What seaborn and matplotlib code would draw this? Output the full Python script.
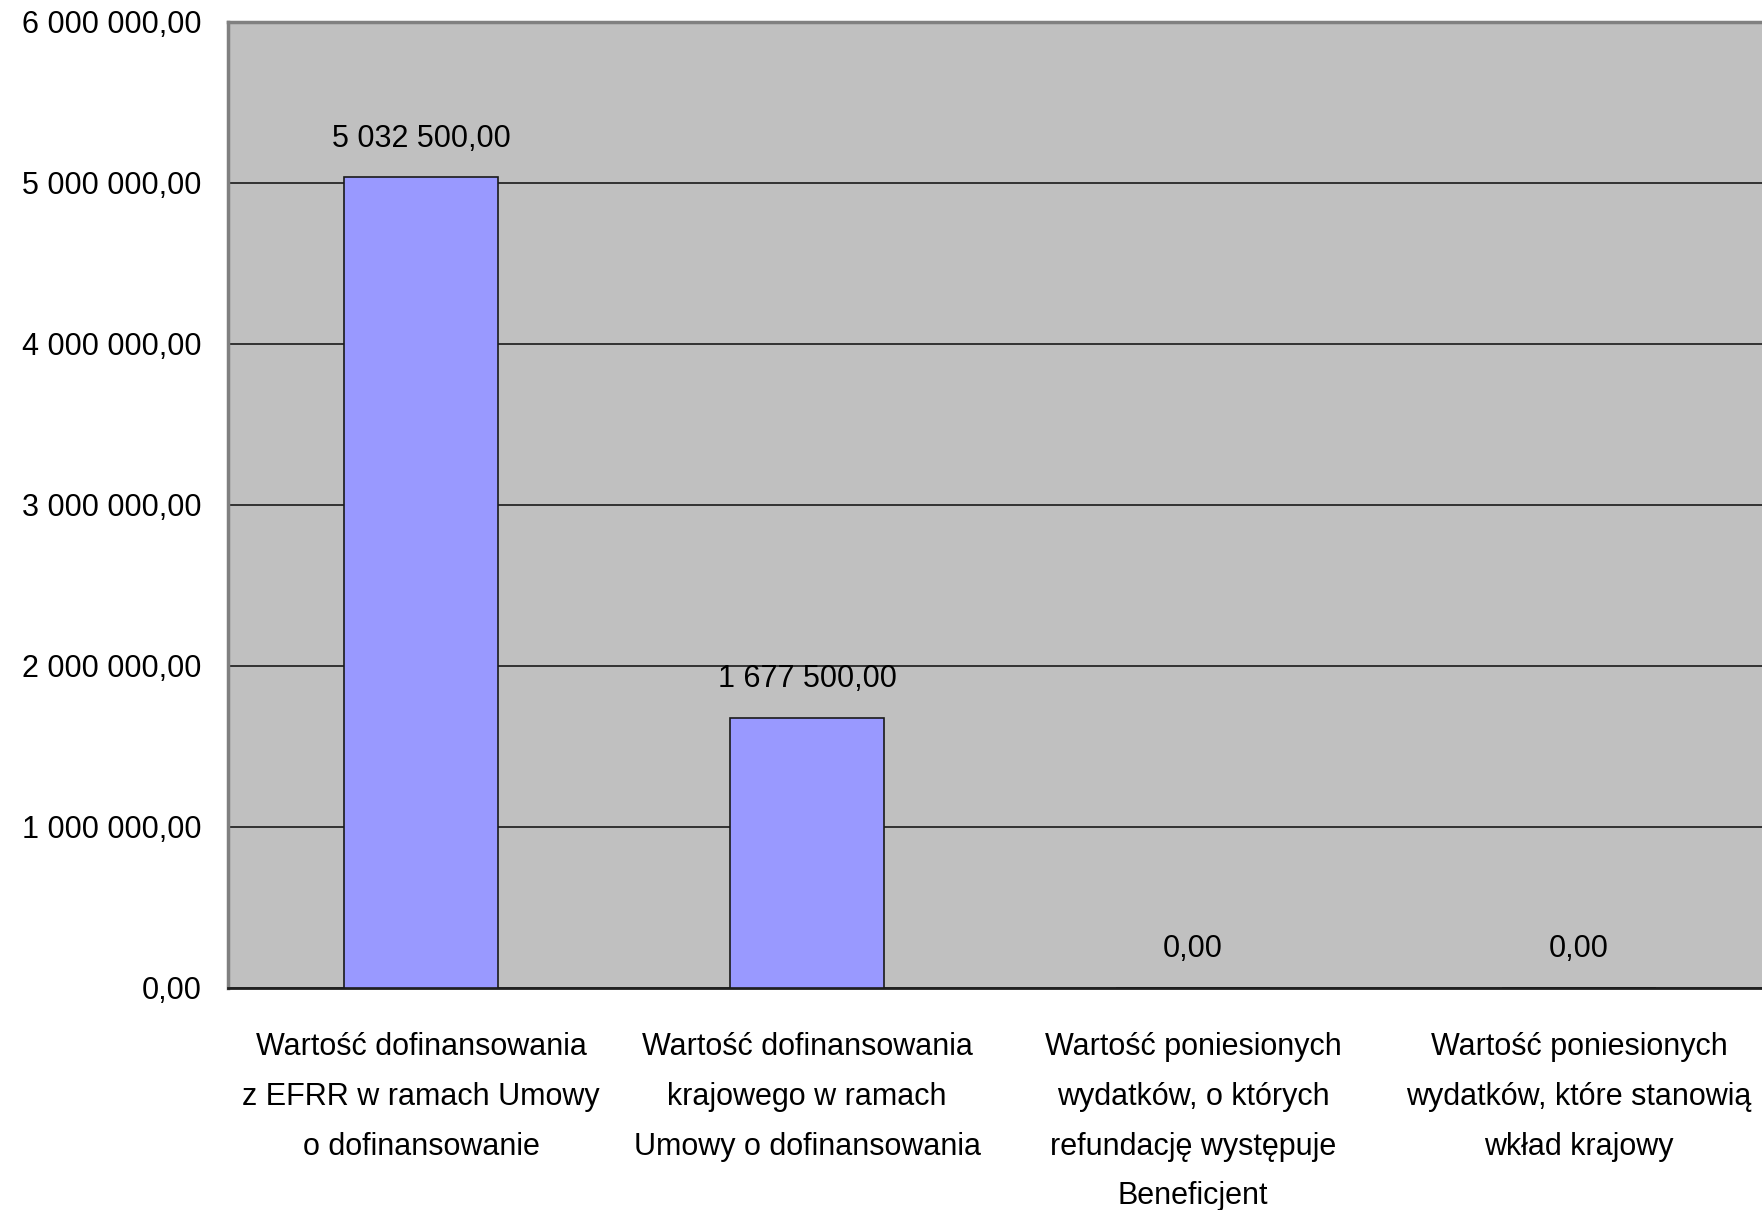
import numpy as np
import pandas as pd
import matplotlib
matplotlib.use("Agg")
import matplotlib.pyplot as plt
import seaborn as sns

# dane wykresu
kategorie = [
    "Wartość dofinansowania\nz EFRR w ramach Umowy\no dofinansowanie",
    "Wartość dofinansowania\nkrajowego w ramach\nUmowy o dofinansowania",
    "Wartość poniesionych\nwydatków, o których\nrefundację występuje\nBeneficjent",
    "Wartość poniesionych\nwydatków, które stanowią\nwkład krajowy",
]
wartosci = [5032500.00, 1677500.00, 0.00, 0.00]
y_ticks = [0, 1000000, 2000000, 3000000, 4000000, 5000000, 6000000]


def fmt_pl(v):
    # 5 032 500,00 - spacja jako separator tysięcy, przecinek dziesiętny
    return f"{v:,.2f}".replace(",", " ").replace(".", ",")


sns.set_style("white")
plt.rcParams["font.family"] = ["Liberation Sans", "DejaVu Sans"]
plt.rcParams["text.color"] = "black"
plt.rcParams["xtick.labelcolor"] = "black"
plt.rcParams["ytick.labelcolor"] = "black"

df = pd.DataFrame({"kategoria": kategorie, "wartosc": wartosci})

fig = plt.figure(figsize=(17.62, 12.10), dpi=100)
ax = fig.add_axes([0.1294, 0.1835, 0.8763, 0.7987])
ax.set_facecolor("#C0C0C0")

sns.barplot(data=df, x="kategoria", y="wartosc", color="#9999FF",
            saturation=1, width=0.4, edgecolor="#1a1a1a", linewidth=1.2,
            ax=ax, zorder=3)

# siatka pozioma
ax.set_ylim(0, 6000000)
ax.set_yticks(y_ticks)
ax.set_yticklabels([fmt_pl(v) for v in y_ticks])
ax.yaxis.grid(True, color="#1a1a1a", linewidth=1.2, zorder=1)
ax.set_axisbelow(True)

# oś X: znaczniki na granicach kategorii, etykiety pośrodku
ax.set_xlim(-0.5, 3.5)
ax.set_xticks(np.arange(-0.5, 4.0, 1.0))
ax.set_xticklabels([])
ax.set_xticks(np.arange(len(kategorie)), minor=True)
ax.set_xticklabels(kategorie, minor=True, fontsize=22, linespacing=1.85,
                   color="black")
ax.tick_params(axis="x", which="minor", length=0, pad=32)
ax.tick_params(axis="x", which="major", length=7, width=1.2,
               color="#606060", direction="out")
ax.tick_params(axis="y", length=7, width=1.2, color="#606060",
               direction="out", labelsize=22, pad=12, labelcolor="black")
ax.set_xlabel("")
ax.set_ylabel("")

# etykiety wartości nad słupkami
ax.bar_label(ax.containers[0], labels=[fmt_pl(v) for v in wartosci],
             padding=17, fontsize=22, color="black")

for s in ["left", "top"]:
    ax.spines[s].set_color("#808080")
    ax.spines[s].set_linewidth(2.5)
ax.spines["bottom"].set_color("#202020")
ax.spines["bottom"].set_linewidth(2)
ax.spines["right"].set_visible(False)

fig.savefig("out.png", dpi=100, facecolor="white")
